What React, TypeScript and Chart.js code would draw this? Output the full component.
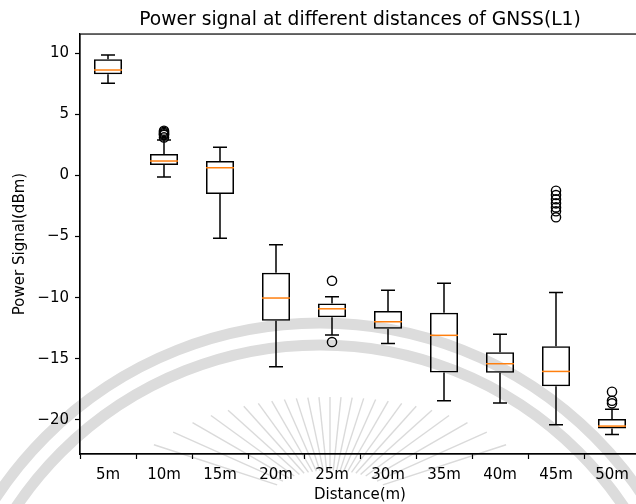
import React, { useEffect, useRef } from 'react';
import { Chart, registerables } from 'chart.js';

Chart.register(...registerables);

// ---- data ----
const categories = ['5m', '10m', '15m', '20m', '25m', '30m', '35m', '40m', '45m', '50m'];
const whiskerHigh = [9.84, 2.89, 2.29, -5.67, -9.93, -9.4, -8.83, -13.0, -9.57, -19.13];
const q3 = [9.48, 1.74, 1.17, -7.96, -10.47, -11.1, -11.23, -14.47, -13.98, -19.92];
const medians = [8.61, 1.17, 0.62, -10.03, -10.91, -11.97, -13.08, -15.4, -16.03, -20.5];
const q1 = [8.26, 0.84, -1.53, -11.89, -11.61, -12.54, -16.11, -16.14, -17.25, -20.69];
const whiskerLow = [7.52, -0.14, -5.15, -15.65, -13.06, -13.74, -18.43, -18.62, -20.39, -21.19];
const outliers: number[][] = [
  [],
  [3.65, 3.55, 3.45, 3.35, 3.3, 3.1],
  [],
  [],
  [-8.62, -13.63],
  [],
  [],
  [],
  [-1.26, -1.61, -1.96, -2.29, -2.62, -2.94, -3.43],
  [-17.69, -18.43, -18.64],
];
const yTicks = [10, 5, 0, -5, -10, -15, -20];
const yMin = -22.78;
const yMax = 11.55;

const titleText = 'Power signal at different distances of GNSS(L1)';
const xTitle = 'Distance(m)';
const yTitle = 'Power Signal(dBm)';

const FONT = 'DejaVu Sans';

export default function App() {
  const ref = useRef<HTMLCanvasElement>(null);

  useEffect(() => {
    document.body.style.margin = '0';
    const canvas = ref.current!;
    const ctx = canvas.getContext('2d')!;

    const boxPlugin = {
      id: 'boxExtras',
      beforeDraw(chart: any) {
        const c = chart.ctx;
        c.save();
        c.fillStyle = '#ffffff';
        c.fillRect(0, 0, chart.width, chart.height);
        // faint seal watermark
        c.strokeStyle = '#dcdcdc';
        c.lineWidth = 11;
        c.beginPath();
        c.arc(320, 711, 388, Math.PI, 2 * Math.PI);
        c.stroke();
        c.beginPath();
        c.arc(320, 711, 366, Math.PI, 2 * Math.PI);
        c.stroke();
        c.strokeStyle = '#dadada';
        c.lineWidth = 1.4;
        const cx = 330, cy = 502, a = 210, b = 105;
        for (let deg = -72; deg <= 72; deg += 6) {
          const t = (deg * Math.PI) / 180;
          const s = Math.sin(t), co = Math.cos(t);
          const r = 1 / Math.sqrt((s / a) ** 2 + (co / b) ** 2);
          c.beginPath();
          c.moveTo(cx + s * r * 0.3, cy - co * r * 0.3);
          c.lineTo(cx + s * r, cy - co * r);
          c.stroke();
        }
        c.restore();
      },
      afterDatasetDraw(chart: any, args: any) {
        if (args.index !== 0) return;
        const c = chart.ctx;
        const xs = chart.scales.x;
        const ys = chart.scales.y;
        const step = xs.getPixelForValue(1) - xs.getPixelForValue(0);
        const boxHalf = step * 0.25;
        const capHalf = step * 0.125;
        c.save();
        c.lineWidth = 1.5;
        c.strokeStyle = '#000';
        c.lineCap = 'butt';
        categories.forEach((_, i) => {
          const px = xs.getPixelForValue(i);
          const yH = ys.getPixelForValue(whiskerHigh[i]);
          const yQ3 = ys.getPixelForValue(q3[i]);
          const yQ1 = ys.getPixelForValue(q1[i]);
          const yL = ys.getPixelForValue(whiskerLow[i]);
          c.beginPath();
          c.moveTo(px, yQ3);
          c.lineTo(px, yH);
          c.moveTo(px, yQ1);
          c.lineTo(px, yL);
          c.moveTo(px - capHalf, yH);
          c.lineTo(px + capHalf, yH);
          c.moveTo(px - capHalf, yL);
          c.lineTo(px + capHalf, yL);
          c.stroke();
        });
        c.strokeStyle = '#ff7f0e';
        categories.forEach((_, i) => {
          const px = xs.getPixelForValue(i);
          const yM = ys.getPixelForValue(medians[i]);
          c.beginPath();
          c.moveTo(px - boxHalf, yM);
          c.lineTo(px + boxHalf, yM);
          c.stroke();
        });
        c.restore();
      },
      afterDraw(chart: any) {
        const c = chart.ctx;
        const { left, top, right, bottom } = chart.chartArea;
        c.save();
        c.strokeStyle = '#000';
        c.lineWidth = 1.2;
        c.strokeRect(left, top, right - left, bottom - top);
        c.restore();
      },
    };

    const outlierPoints: { x: string; y: number }[] = [];
    outliers.forEach((arr, i) => arr.forEach((v) => outlierPoints.push({ x: categories[i], y: v })));

    const chart = new Chart(ctx, {
      type: 'bar',
      data: {
        labels: categories,
        datasets: [
          {
            type: 'bar',
            data: categories.map((_, i) => [q1[i], q3[i]]) as any,
            backgroundColor: 'rgba(0,0,0,0)',
            borderColor: '#000',
            borderWidth: 1.5,
            borderSkipped: false,
            barPercentage: 0.5,
            categoryPercentage: 1.0,
            order: 2,
          } as any,
          {
            type: 'scatter',
            data: outlierPoints as any,
            pointStyle: 'circle',
            pointRadius: 4.6,
            pointBorderWidth: 1.4,
            pointBorderColor: '#000',
            pointBackgroundColor: 'rgba(0,0,0,0)',
            order: 1,
          } as any,
        ],
      },
      options: {
        responsive: false,
        animation: false,
        devicePixelRatio: 1,
        layout: { padding: { left: 0, right: 20, top: 0, bottom: 0 } },
        plugins: {
          legend: { display: false },
          tooltip: { enabled: false },
          title: {
            display: true,
            fullSize: false,
            text: titleText,
            color: '#000',
            font: { family: FONT, size: 18.7, weight: 'normal' },
            padding: { top: 9.2, bottom: 2.4 },
          },
        },
        scales: {
          x: {
            type: 'category',
            offset: true,
            grid: {
              display: true,
              drawOnChartArea: false,
              drawTicks: true,
              tickLength: 5,
              tickColor: '#000',
              tickWidth: 1.2,
            },
            border: { display: true, color: '#000', width: 1.2 },
            ticks: {
              color: '#000',
              font: { family: FONT, size: 15 },
              padding: 7,
              maxRotation: 0,
              autoSkip: false,
            },
            title: {
              display: true,
              text: xTitle,
              color: '#000',
              font: { family: FONT, size: 15 },
              padding: { top: 0, bottom: 0 },
            },
            afterFit: (s: any) => {
              s.height = 50;
            },
          },
          y: {
            type: 'linear',
            min: yMin,
            max: yMax,
            grid: {
              display: true,
              drawOnChartArea: false,
              drawTicks: true,
              tickLength: 5,
              tickColor: '#000',
              tickWidth: 1.2,
            },
            border: { display: true, color: '#000', width: 1.2 },
            afterBuildTicks: (s: any) => {
              s.ticks = yTicks.map((v) => ({ value: v }));
            },
            ticks: {
              color: '#000',
              font: { family: FONT, size: 15 },
              padding: 6,
              callback: (v: any) => (Number(v) < 0 ? '\u2212' + Math.abs(Number(v)) : String(v)),
            },
            title: {
              display: true,
              text: yTitle,
              color: '#000',
              font: { family: FONT, size: 15 },
              padding: { top: 11.5, bottom: 0 },
            },
            afterFit: (s: any) => {
              s.width = 80;
            },
          },
        },
      },
      plugins: [boxPlugin],
    });

    return () => chart.destroy();
  }, []);

  return (
    <div
      style={{
        position: 'fixed',
        left: 0,
        top: 0,
        width: 636,
        height: 504,
        overflow: 'hidden',
        background: '#fff',
      }}
    >
      <canvas ref={ref} width={660} height={504} style={{ display: 'block' }} />
    </div>
  );
}
